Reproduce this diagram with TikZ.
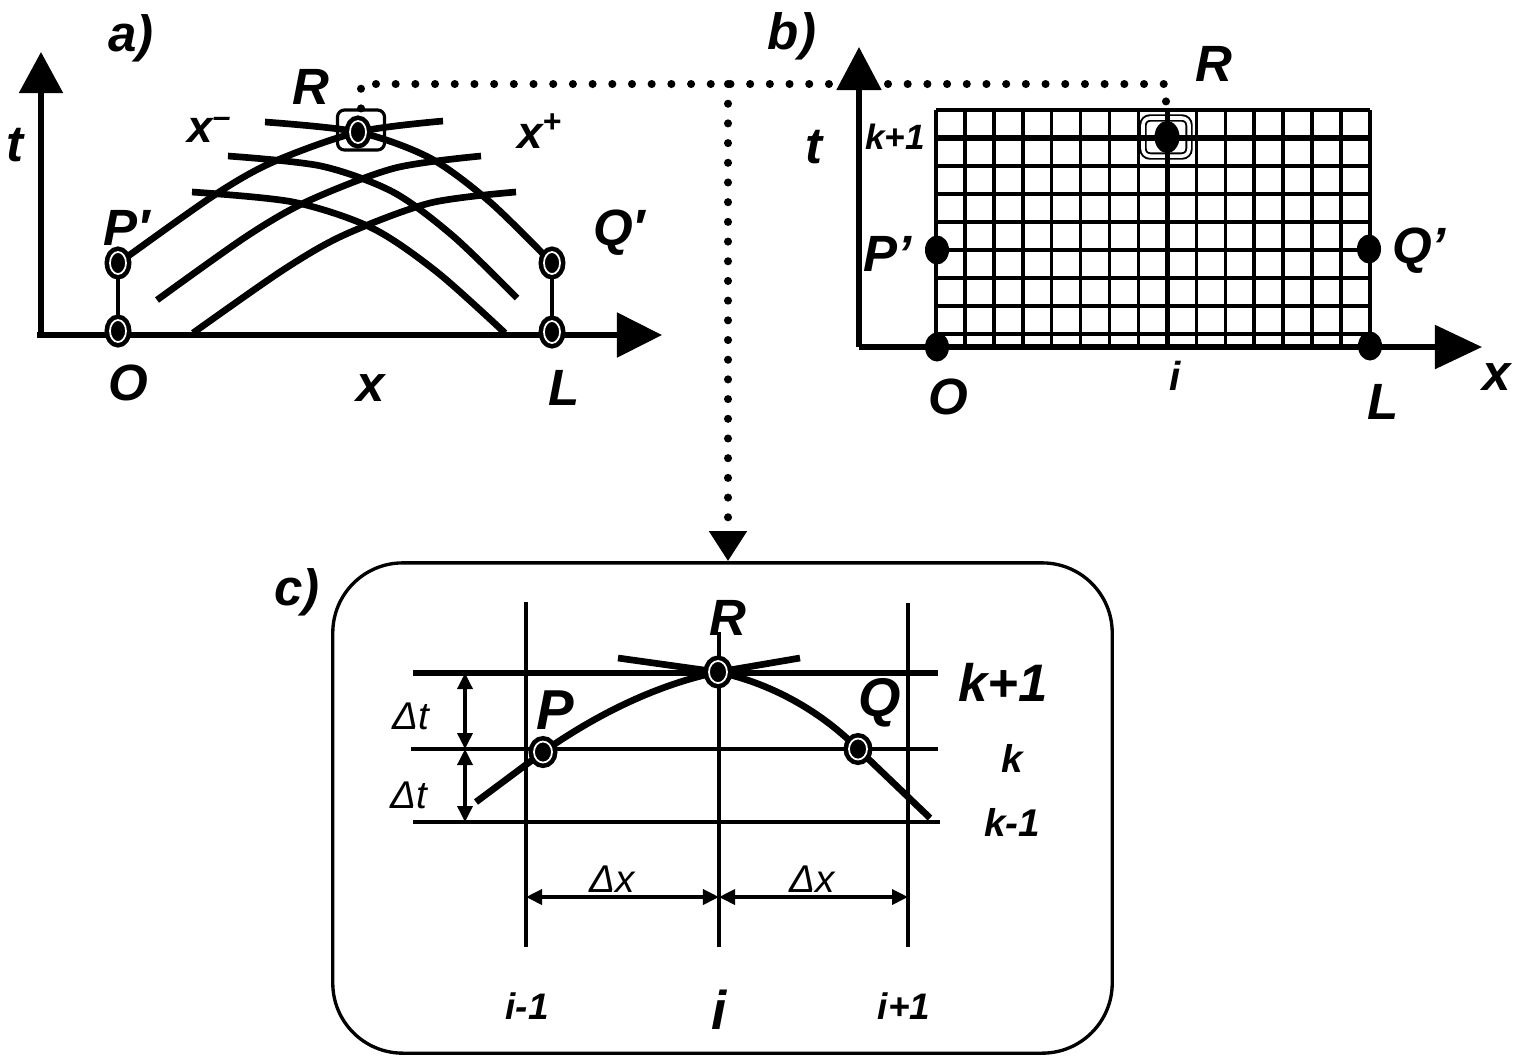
\documentclass[tikz,border=0pt]{standalone}
\usepackage{fontspec}
\setmainfont{Liberation Sans}
\usetikzlibrary{arrows.meta,shapes.geometric}
\tikzset{
  >=Triangle,
  knot/.style={ellipse, inner sep=0pt, minimum width=0.16cm, minimum height=0.22cm,
    fill=black, draw=black, line width=1.3pt, double=white, double distance=0.5pt},
  blob/.style={ellipse, inner sep=0pt, minimum width=0.24cm, minimum height=0.29cm, fill=black},
}

\begin{document}
\begin{tikzpicture}[x=0.01cm, y=-0.01cm,
  lbl/.style={inner sep=0pt, font=\bfseries\itshape\fontsize{14.5}{17}\selectfont},
  slbl/.style={inner sep=0pt, font=\bfseries\itshape\fontsize{10.5}{12}\selectfont},
  dlbl/.style={inner sep=0pt, font=\itshape\fontsize{11}{13}\selectfont},
  axisline/.style={line width=1.5pt},
  charline/.style={line width=1.9pt},
  thinline/.style={line width=1pt},
  thickline/.style={line width=1.6pt},
  dotline/.style={line width=2.3pt, line cap=round, dash pattern=on 0pt off 5.6pt},
  dimarr/.style={thinline, {Triangle[length=0.16cm, width=0.15cm]}-{Triangle[length=0.16cm, width=0.15cm]}}
]
  \useasboundingbox (0,0) rectangle (1521,1056);

  % ---------- a) characteristics
  \node[lbl] (labA) at (131,38) {a)};
  \draw[axisline, -{Triangle[length=0.41cm, width=0.43cm]}] (41,335) -- (41,52);
  \draw[axisline, -{Triangle[length=0.45cm, width=0.44cm]}] (37,335) -- (662,335);
  \node[lbl] (ta) at (15,145) {t};
  \node[lbl] (xa) at (371,388) {x};
  \node[lbl] (Olab) at (128,383) {O};
  \node[lbl] (Llab) at (564,388) {L};
  \node[lbl] (Pplab) at (127,228) {P′};
  \node[lbl] (Qplab) at (619,233) {Q′};
  \node[lbl] (Ralab) at (311,87) {R};
  \node[lbl, font=\bfseries\itshape\fontsize{13}{15}\selectfont] (xminus) at (210,130) {x\textsuperscript{–}};
  \node[lbl, font=\bfseries\itshape\fontsize{13}{15}\selectfont] (xplus) at (540,131) {x\textsuperscript{+}};
  % x- family
  \draw[charline] plot[smooth] coordinates {(265,122) (358,132) (430,158) (490,202) (552,263)};
  \draw[charline] plot[smooth] coordinates {(228,156) (321,166) (393,192) (453,236) (517,298)};
  \draw[charline] plot[smooth] coordinates {(192,192) (293,202) (372,228) (437,272) (505,333)};
  % x+ family
  \draw[charline] plot[smooth] coordinates {(120,262) (213,196) (273,162) (358,132) (443,121)};
  \draw[charline] plot[smooth] coordinates {(157,300) (247,236) (308,201) (395,168) (481,156)};
  \draw[charline] plot[smooth] coordinates {(193,333) (283,270) (344,235) (430,203) (516,192)};
  \node[knot] (Pa) at (118,263) {};
  \node[knot] (Oa) at (118,331) {};
  \node[knot] (Qa) at (552,263) {};
  \node[knot] (La) at (552,332) {};
  \draw[thinline] (Pa) -- (Oa);
  \draw[thinline] (Qa) -- (La);
  \node[draw, line width=0.9pt, rounded corners=0.07cm, minimum width=0.47cm,
    minimum height=0.4cm, inner sep=0pt] (Rabox) at (361,130) {};
  \node[knot] (Ra) at (358,132) {};

  % ---------- b) grid
  \node[lbl] (labB) at (792,36) {b)};
  \node[draw, line width=0.55pt, double, double distance=1pt, rounded corners=0.07cm,
    minimum width=0.46cm, minimum height=0.38cm, inner sep=0pt] (Rbbox) at (1166,137) {};
  \coordinate (dtop) at (728,84);
  \draw[dotline] (Rabox.north) |- (dtop) -| (Rbbox.north);
  \foreach \j in {0,...,15}
    \draw[thinline] ({936+28.93*\j},110) -- ({936+28.93*\j},347);
  \foreach \n in {0,...,8}
    \draw[thinline] (936,{110+28*\n}) -- (1370,{110+28*\n});
  \draw[thickline] (936,138) -- (1370,138);
  \draw[thickline] (1167.4,110) -- (1167.4,347);
  \draw[axisline, -{Triangle[length=0.43cm, width=0.44cm]}] (859,347) -- (859,47);
  \draw[axisline, -{Triangle[length=0.47cm, width=0.43cm]}] (859,347) -- (1482,347);
  \node[blob] (Pb) at (937,250) {};
  \node[blob] (Ob) at (937,347) {};
  \node[blob] (Qb) at (1369,249) {};
  \node[blob] (Lb) at (1370,346) {};
  \node[blob, minimum width=0.25cm, minimum height=0.32cm] (Rb) at (1167,137) {};
  \node[lbl] (tb) at (814,147) {t};
  \node[slbl, font=\bfseries\itshape\fontsize{10}{12}\selectfont] (kb) at (895,137) {k+1};
  \node[lbl] (Pblab) at (888,254) {P’};
  \node[lbl] (Qblab) at (1419,251) {Q’};
  \node[lbl] (Oblab) at (948,397) {O};
  \node[lbl] (Lblab) at (1383,402) {L};
  \node[lbl] (xb) at (1497,377) {x};
  \node[lbl, font=\bfseries\itshape\fontsize{11.5}{13}\selectfont] (ib) at (1175,376) {i};
  \node[lbl] (Rblab) at (1214,64) {R};

  % ---------- c) stencil
  \node[lbl] (labC) at (297,592) {c)};
  \node[draw, line width=0.95pt, rounded corners=0.7cm, minimum width=7.79cm,
    minimum height=4.9cm, inner sep=0pt] (cbox) at (722.5,808) {};
  \draw[dotline, -{Triangle[length=0.3cm, width=0.36cm]}] (dtop) -- (dtop |- cbox.north);
  \draw[thickline] (413,673) -- (938,673);
  \draw[thinline] (411,749) -- (938,749);
  \draw[thinline] (413,822) -- (940,822);
  \draw[thinline] (526,602) -- (526,947);
  \draw[line width=1.3pt] (719,632) -- (719,947);
  \draw[thinline] (908,603) -- (908,947);
  \draw[line width=1.9pt] (476,802) -- (543,752) .. controls (600,712) and (660,684) .. (718,672) -- (800,658);
  \draw[line width=1.9pt] (618,658) -- (718,672) .. controls (775,684) and (825,715) .. (858,749) -- (930,818);
  \node[knot, minimum width=0.18cm, minimum height=0.22cm] (Rc) at (718,672) {};
  \node[knot, minimum width=0.18cm, minimum height=0.21cm] (Pc) at (543,752) {};
  \node[knot, minimum width=0.18cm, minimum height=0.21cm] (Qc) at (858,749) {};
  \draw[dimarr] (465,673) -- (465,749);
  \draw[dimarr] (465,749) -- (465,822);
  \draw[dimarr] (526,897) -- (719,897);
  \draw[dimarr] (719,897) -- (908,897);
  \node[dlbl] (dt1) at (411,716) {Δt};
  \node[dlbl] (dt2) at (409,795) {Δt};
  \node[dlbl] (dx1) at (612,879) {Δx};
  \node[dlbl] (dx2) at (812,879) {Δx};
  \node[lbl] (Rclab) at (728,618) {R};
  \node[lbl, font=\bfseries\itshape\fontsize{16}{18}\selectfont] (Pclab) at (555,710) {P};
  \node[lbl, font=\bfseries\itshape\fontsize{15.5}{18}\selectfont] (Qclab) at (880,703) {Q};
  \node[lbl, font=\bfseries\itshape\fontsize{15}{18}\selectfont] (kp1) at (1003,682) {k+1};
  \node[slbl, font=\bfseries\itshape\fontsize{11}{13}\selectfont] (kc) at (1012,758) {k};
  \node[slbl, font=\bfseries\itshape\fontsize{11}{13}\selectfont] (km1) at (1012,822) {k-1};
  \node[slbl] (im1) at (527,1006) {i-1};
  \node[lbl, font=\bfseries\itshape\fontsize{15.5}{18}\selectfont] (ic) at (719,1010) {i};
  \node[slbl] (ip1) at (904,1006) {i+1};
\end{tikzpicture}
\end{document}
